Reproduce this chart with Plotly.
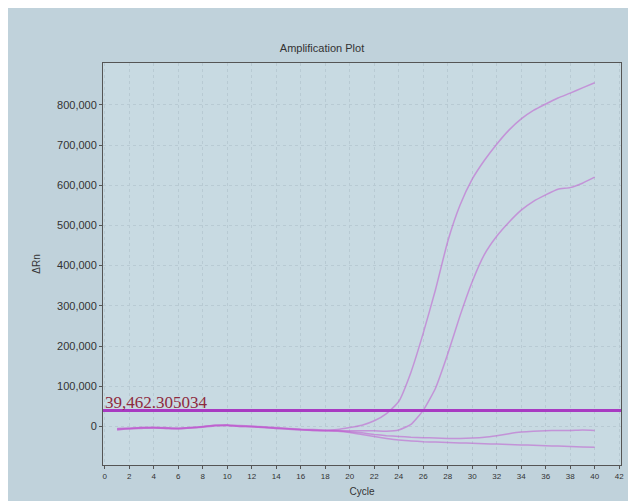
import plotly.graph_objects as go

cycles = list(range(1, 41))

# Delta Rn values, one value per cycle 1..40
well_a = [-6000, -4000, -3000, -3000, -4000, -5000, -3000, 0, 3000, 2000,
          0, -1000, -3000, -5000, -6000, -8000, -10000, -10000, -8000, -3000,
          3000, 14000, 32000, 62000, 135000, 232000, 340000, 460000, 550000, 615000,
          662000, 702000, 737000, 765000, 786000, 802000, 817000, 829000, 842000, 855000]
well_b = [-8000, -6000, -4000, -4000, -5000, -6000, -4000, -1000, 2000, 3000,
          1000, 0, -2000, -4000, -6000, -8000, -9000, -11000, -10000, -11000,
          -11000, -11000, -12000, -9000, 5000, 40000, 95000, 180000, 275000, 360000,
          428000, 473000, 508000, 538000, 560000, 576000, 590000, 594000, 605000, 620000]
well_c = [-5000, -5000, -3000, -2000, -3000, -4000, -3000, -1000, 3000, 4000,
          2000, 1000, -1000, -3000, -5000, -7000, -8000, -9000, -11000, -13000,
          -16000, -20000, -23000, -25000, -27000, -28000, -29000, -30000, -30000, -29000,
          -27000, -23000, -18000, -14000, -12000, -11000, -10000, -10000, -9000, -10000]
well_d = [-9000, -6000, -5000, -4000, -5000, -6000, -4000, -2000, 1000, 2000,
          0, -1000, -3000, -5000, -7000, -9000, -10000, -11000, -12000, -15000,
          -20000, -25000, -30000, -34000, -36000, -38000, -39000, -40000, -41000, -42000,
          -43000, -44000, -45000, -46000, -47000, -48000, -49000, -50000, -51000, -52000]

threshold = 39462.305034
threshold_label = "39,462.305034"

x_ticks = list(range(0, 43, 2))
y_ticks = list(range(0, 900000, 100000))

fig = go.Figure()
for series in [well_c, well_d, well_b, well_a]:
    fig.add_trace(go.Scatter(
        x=cycles, y=series, mode="lines",
        line=dict(color="#c05ad0", width=1.5, shape="spline", smoothing=0.5),
        opacity=0.55, showlegend=False, hoverinfo="x+y"))

# threshold line
fig.add_shape(type="line", xref="paper", x0=0, x1=1, yref="y",
              y0=threshold, y1=threshold,
              line=dict(color="#a83ac2", width=3))
fig.add_annotation(x=0, y=threshold, xref="paper", yref="y",
                   text=threshold_label, showarrow=False,
                   xanchor="left", yanchor="bottom", yshift=-3,
                   font=dict(family="Liberation Serif", size=17, color="#8e2a3e"))

H = 500
fig.update_layout(
    width=628, height=H,
    margin=dict(l=95, r=14, t=55, b=35),
    paper_bgcolor="#c0d2db",
    plot_bgcolor="#c8dae2",
    title=dict(text="Amplification Plot", x=0.5, xanchor="center",
               y=1 - 40/H, yanchor="middle",
               font=dict(family="Liberation Sans", size=11, color="#333333")),
    font=dict(family="Liberation Sans", color="#333333"),
    xaxis=dict(range=[-0.15, 42.15], tickvals=x_ticks,
               ticks="outside", ticklen=3, tickcolor="#555555",
               tickfont=dict(size=8, color="#333333"),
               showgrid=True, gridcolor="#b8cad3", griddash="dot", gridwidth=1,
               showline=True, linecolor="#555555", linewidth=1, mirror=True,
               zeroline=False,
               title=dict(text="Cycle", font=dict(size=10, color="#333333"), standoff=8)),
    yaxis=dict(range=[-96000, 904000], tickvals=y_ticks, tickformat=",d",
               ticks="outside", ticklen=3, tickcolor="#555555",
               tickfont=dict(size=11, color="#333333"),
               showgrid=True, gridcolor="#b8cad3", griddash="dot", gridwidth=1,
               showline=True, linecolor="#555555", linewidth=1, mirror=True,
               zeroline=False,
               title=dict(text="ΔRn", font=dict(size=10, color="#333333"), standoff=14)),
)

fig.write_html("out.html")
